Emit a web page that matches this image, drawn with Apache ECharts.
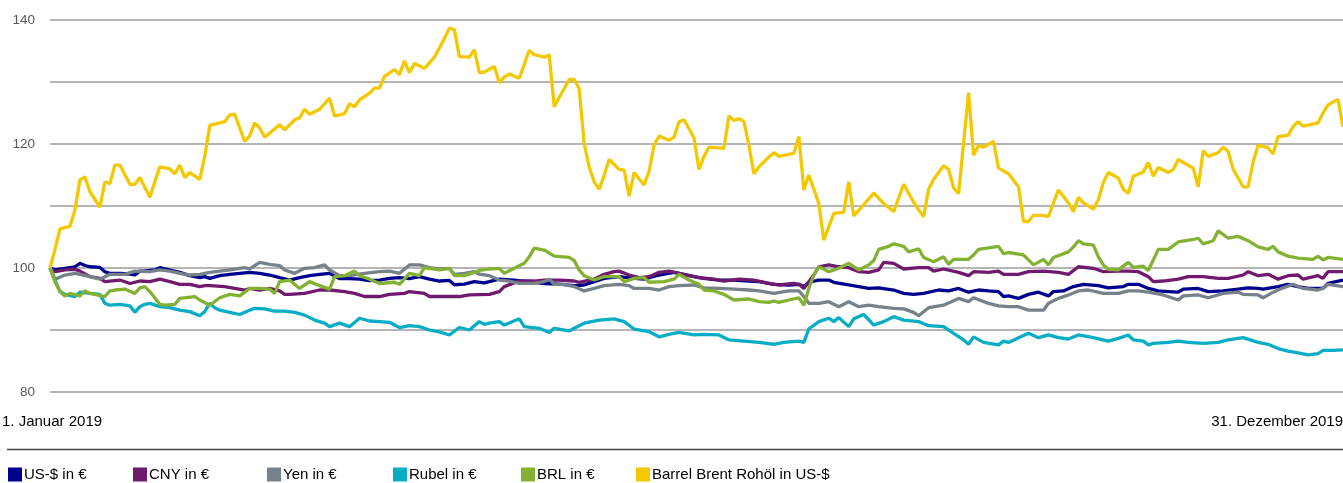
<!DOCTYPE html>
<html>
<head>
<meta charset="utf-8">
<script src="https://cdn.jsdelivr.net/npm/echarts@6/dist/echarts.min.js"></script>
<style>
html, body { margin: 0; padding: 0; background: #fff; }
#chart { width: 1343px; height: 483px; }
</style>
</head>
<body>
<div id="chart"></div>
<script>
// x = Handelstag 0..259 im Jahr 2019, y = Index (1.1.2019 = 100)
var seriesNames = ['US-$ in €', 'CNY in €', 'Yen in €', 'Rubel in €', 'BRL in €', 'Barrel Brent Rohöl in US-$'];
var seriesColors = ['#00008f', '#701a6e', '#76818a', '#07adc4', '#83b233', '#f4c800'];
var legendLeft = [8, 133, 267, 393, 521, 636];
var firstLabel = '1. Januar 2019';
var lastLabel = '31. Dezember 2019';

var usd = [[0,100],[1,99.7],[3,99.95],[5,100.2],[6,100.75],[7,100.4],[8,100.2],[10,100.1],[11,99.4],[12,99.14],[14,99.14],[16,99.03],[17,98.87],[18,99.5],[19,99.55],[21,99.68],[22,100.05],[23,99.85],[24,99.68],[26,99.3],[28,98.76],[30,98.44],[31,98.6],[32,98.33],[34,98.76],[36,98.98],[38,99.14],[40,99.3],[42,99.14],[44,98.87],[46,98.44],[48,98.06],[50,98.44],[52,98.76],[54,98.98],[56,99.14],[58,98.3],[60,98.3],[62,98.2],[64,97.95],[66,98.06],[68,98.33],[70,98.44],[72,98.3],[74,98.6],[76,98.2],[78,97.9],[80,98.0],[81,97.3],[83,97.4],[85,97.8],[87,97.6],[88,97.8],[90,98.2],[93,98.06],[96,97.8],[99,97.5],[102,97.4],[105,97.15],[107,97.26],[109,97.8],[111,98.33],[114,98.6],[117,98.33],[119,98.2],[122,98.87],[125,99.3],[126,99.14],[129,98.6],[131,98.33],[134,98.06],[137,98.06],[140,97.9],[142,97.8],[145,97.37],[148,97.26],[150,97.37],[151,97.0],[152,97.7],[154,98.06],[156,98.06],[157,97.7],[160,97.26],[162,97.0],[164,96.7],[166,96.8],[169,96.45],[171,95.9],[173,95.75],[175,95.9],[178,96.45],[180,96.3],[182,96.7],[184,96.1],[186,96.45],[188,96.3],[190,96.2],[191,95.4],[192,95.5],[194,95.1],[196,95.75],[198,96.1],[200,95.5],[201,96.2],[203,96.3],[205,97.0],[207,97.37],[210,97.15],[212,96.8],[215,97.0],[216,97.37],[218,97.37],[220,96.7],[222,96.3],[224,96.2],[226,96.1],[227,96.6],[230,96.7],[232,96.2],[235,96.3],[238,96.6],[240,96.8],[242,96.7],[243,96.6],[246,97.0],[248,97.37],[250,97.0],[252,96.7],[255,96.7],[256,97.53],[259,98.06]];

var cny = [[0,100],[1,99.4],[3,99.7],[5,99.8],[6,99.5],[8,98.6],[10,98.33],[11,97.8],[12,97.9],[14,98.06],[16,97.5],[18,97.9],[20,97.8],[22,98.2],[24,97.8],[26,97.37],[28,97.37],[30,97.0],[31,97.15],[32,97.15],[35,97.0],[37,96.7],[39,96.45],[40,96.7],[42,96.45],[44,96.7],[46,96.3],[47,95.75],[48,95.75],[51,95.9],[54,96.45],[56,96.45],[59,96.2],[61,95.9],[63,95.4],[66,95.4],[68,95.75],[71,95.9],[72,96.2],[75,95.9],[76,95.4],[79,95.4],[82,95.4],[84,95.65],[86,95.7],[88,95.75],[90,96.2],[91,97.0],[94,97.9],[97,97.9],[99,98.06],[102,98.06],[105,97.9],[106,97.7],[109,98.2],[111,98.98],[113,99.4],[114,99.5],[116,98.87],[118,98.44],[120,98.6],[122,99.3],[124,99.5],[126,99.14],[128,98.76],[130,98.44],[133,98.2],[135,97.9],[138,98.2],[141,98.06],[144,97.53],[146,97.26],[149,97.53],[150,97.37],[151,96.7],[153,98.87],[154,100.2],[156,100.5],[158,100.2],[160,100.05],[162,99.4],[164,99.3],[166,99.7],[167,100.9],[169,100.75],[171,99.84],[174,100.05],[176,100.05],[177,99.5],[179,99.84],[182,99.3],[184,98.76],[185,99.4],[188,99.3],[190,99.5],[191,98.98],[194,98.98],[196,99.4],[199,99.5],[202,99.3],[204,98.98],[206,100.2],[209,99.95],[211,99.4],[214,99.5],[216,99.5],[218,99.4],[220,98.6],[221,97.8],[223,97.9],[226,98.2],[228,98.6],[231,98.6],[234,98.33],[236,98.33],[239,98.87],[240,99.4],[242,98.76],[244,98.98],[246,98.2],[248,98.76],[250,98.87],[251,98.2],[254,98.76],[255,98.33],[256,99.4],[259,99.4]];

var yen = [[0,100],[1,98.2],[3,98.87],[5,99.14],[6,98.98],[8,98.6],[10,98.2],[12,98.98],[15,98.98],[17,99.5],[20,99.4],[22,99.7],[24,99.5],[26,99.14],[28,98.87],[30,98.98],[32,99.3],[34,99.5],[36,99.68],[39,100.05],[40,99.84],[42,100.9],[44,100.6],[46,100.4],[47,99.68],[49,99.14],[51,99.95],[53,100.05],[55,100.5],[56,99.68],[58,98.76],[60,98.76],[63,99.14],[66,99.4],[68,99.5],[70,99.14],[72,100.5],[74,100.5],[76,100.05],[78,99.84],[80,99.95],[81,98.98],[83,99.14],[85,99.4],[86,99.0],[88,98.76],[90,98.06],[92,97.9],[94,97.53],[97,97.53],[99,97.8],[100,98.2],[101,97.37],[103,97.37],[105,97.0],[107,96.3],[109,96.7],[111,97.15],[114,97.37],[116,97.15],[117,96.7],[120,96.7],[122,96.45],[124,97.0],[126,97.15],[129,97.26],[131,96.8],[134,96.7],[137,96.6],[140,96.45],[142,96.3],[145,95.9],[148,96.3],[150,96.3],[151,95.4],[152,94.3],[154,94.3],[156,94.57],[158,93.76],[160,94.57],[162,93.76],[164,94.0],[166,93.76],[169,93.5],[171,93.4],[173,92.85],[174,92.3],[176,93.6],[179,94.0],[182,95.1],[184,94.57],[185,95.2],[188,94.3],[190,93.9],[192,93.76],[194,93.76],[196,93.2],[199,93.2],[200,94.3],[202,95.1],[204,95.65],[206,96.3],[208,96.45],[211,95.9],[214,95.9],[216,96.3],[218,96.3],[220,96.1],[223,95.65],[226,94.84],[227,95.5],[230,95.65],[232,95.2],[235,95.9],[238,96.1],[239,95.75],[242,95.65],[243,95.2],[245,96.1],[247,96.8],[249,97.37],[251,96.7],[254,96.45],[255,96.7],[256,97.37],[259,97.0]];

var rub = [[0,100],[1,98.06],[2,96.2],[3,95.75],[5,95.4],[6,96.1],[8,95.9],[10,95.75],[11,94.3],[12,94.0],[14,94.14],[16,93.9],[17,92.85],[18,93.76],[19,94.14],[20,94.3],[22,93.76],[24,93.6],[26,93.2],[28,92.96],[30,92.3],[31,92.96],[32,94.3],[33,93.6],[34,93.2],[36,92.85],[38,92.5],[39,92.85],[41,93.5],[43,93.4],[45,93.06],[47,93.06],[49,92.85],[51,92.4],[53,91.6],[55,91.1],[56,90.54],[58,91.1],[60,90.54],[62,91.9],[64,91.45],[66,91.35],[68,91.24],[70,90.4],[72,90.7],[74,90.54],[76,90.0],[78,89.7],[80,89.2],[82,90.4],[84,90.0],[86,91.35],[87,90.9],[88,91.1],[90,91.35],[91,90.8],[94,91.8],[95,90.54],[98,90.27],[100,89.6],[101,90.27],[104,89.84],[105,90.27],[107,91.1],[110,91.6],[113,91.8],[115,91.35],[117,90.16],[120,89.73],[122,88.9],[124,89.3],[126,89.6],[129,89.2],[131,89.3],[134,89.2],[136,88.4],[139,88.2],[142,88.0],[145,87.7],[147,88.0],[150,88.2],[151,88.0],[152,90.16],[154,91.35],[156,91.9],[157,91.35],[158,92.0],[160,90.54],[161,91.8],[163,92.5],[165,90.8],[167,91.35],[169,92.15],[171,91.6],[174,91.35],[176,90.7],[179,90.54],[181,89.46],[183,88.4],[184,87.7],[185,88.9],[187,88.0],[190,87.6],[191,88.2],[192,88.0],[194,88.76],[196,89.46],[198,88.76],[200,89.2],[202,88.76],[204,88.55],[206,89.2],[209,88.76],[212,88.2],[214,88.65],[216,89.2],[217,88.4],[219,88.2],[220,87.6],[221,87.85],[224,88.0],[226,88.2],[228,88.0],[231,87.85],[234,88.0],[236,88.4],[239,88.76],[242,88.0],[244,87.7],[246,87.0],[248,86.6],[250,86.3],[252,86.0],[254,86.2],[255,86.7],[257,86.7],[259,86.8]];

var brl = [[0,100],[1,97.8],[2,96.2],[3,95.5],[4,95.9],[6,95.5],[7,96.3],[8,95.9],[11,95.4],[12,96.3],[13,96.45],[15,96.6],[17,95.9],[18,96.8],[19,97.0],[20,96.2],[22,94.14],[23,94.0],[25,94.14],[26,95.1],[29,95.4],[30,94.84],[32,94.0],[34,95.2],[36,95.75],[38,95.5],[40,96.7],[42,96.7],[44,96.6],[45,95.9],[46,97.8],[48,98.06],[50,96.7],[52,97.8],[54,97.15],[56,96.6],[57,98.6],[59,98.76],[61,99.5],[62,98.76],[64,98.2],[66,97.5],[69,97.7],[70,97.37],[72,99.14],[74,98.76],[75,100.05],[78,99.68],[80,99.95],[81,98.76],[83,98.76],[85,99.3],[86,99.6],[88,99.84],[90,99.95],[91,99.14],[93,99.95],[95,100.75],[96,101.8],[97,103.2],[99,102.9],[101,101.9],[104,101.7],[105,101.2],[106,99.7],[107,98.76],[109,98.06],[111,98.6],[114,98.6],[115,97.8],[117,98.33],[119,98.44],[120,97.7],[123,97.8],[125,98.2],[126,98.98],[128,98.06],[130,97.37],[131,96.45],[133,96.3],[135,95.75],[137,94.84],[140,95.0],[142,94.57],[144,94.46],[145,94.68],[146,94.46],[148,94.84],[150,95.2],[151,94.0],[152,96.7],[153,98.87],[154,100.2],[156,99.4],[158,99.95],[160,100.75],[162,99.68],[164,100.5],[165,101.2],[166,103.0],[168,103.5],[169,103.9],[171,103.5],[172,102.6],[174,103.1],[175,101.7],[177,101.0],[179,101.8],[180,100.6],[181,101.4],[184,101.4],[185,102.1],[186,103.0],[190,103.5],[191,102.3],[192,102.5],[195,102.1],[197,100.5],[199,101.4],[200,100.5],[201,101.7],[204,102.6],[205,103.4],[206,104.4],[207,103.9],[209,103.7],[210,101.8],[211,100.5],[212,99.8],[214,99.7],[216,100.9],[217,100.1],[219,100.3],[220,99.6],[222,103.0],[224,103.0],[226,104.2],[229,104.6],[230,104.8],[231,103.9],[233,104.4],[234,106.0],[236,104.8],[238,105.1],[240,104.4],[242,103.4],[244,103.0],[245,103.5],[246,102.6],[248,101.9],[250,101.6],[253,101.4],[254,101.9],[255,101.3],[256,101.7],[259,101.4]];

var brent = [[0,100],[1,103],[2,106.3],[4,106.7],[5,109.4],[6,114.2],[7,114.7],[8,112.3],[10,109.8],[11,113.9],[12,113.6],[13,116.6],[14,116.6],[16,113.5],[17,113.5],[18,114.6],[20,111.4],[21,113.9],[22,116.3],[24,116.0],[25,115.2],[26,116.6],[27,114.6],[28,115.4],[30,114.3],[31,118.0],[32,123.0],[35,123.6],[36,124.7],[37,124.8],[39,120.4],[40,121.3],[41,123.4],[42,122.6],[43,121.1],[46,123.1],[47,122.3],[49,123.9],[50,124.2],[51,125.6],[52,124.8],[54,125.6],[56,127.4],[57,124.5],[59,124.9],[60,126.5],[61,126.0],[62,127.1],[64,128.2],[65,129.0],[66,129.0],[67,130.9],[69,132.0],[70,131.2],[71,133.4],[72,131.5],[73,133.0],[75,132.2],[76,133.1],[77,134.0],[79,137.0],[80,138.7],[81,138.4],[82,134.1],[84,134.0],[85,135.2],[86,131.5],[87,131.6],[89,132.5],[90,129.9],[91,130.8],[92,131.3],[94,130.6],[96,135.1],[97,134.4],[99,134.0],[100,134.4],[101,126.0],[102,127.5],[104,130.4],[105,130.4],[106,128.9],[107,120.1],[108,116.3],[109,113.9],[110,112.7],[111,114.9],[112,117.5],[114,115.9],[115,115.8],[116,111.6],[117,115.4],[119,113.4],[120,115.6],[121,119.8],[122,121.3],[124,120.6],[125,121.1],[126,123.6],[127,123.9],[129,121.0],[130,115.9],[131,118.0],[132,119.5],[135,119.3],[136,124.5],[137,123.8],[138,124.1],[139,123.6],[140,119.8],[141,115.2],[142,116.3],[144,117.9],[145,118.6],[146,118.0],[149,118.5],[150,121.2],[151,112.6],[152,115.0],[154,110.4],[155,104.5],[157,108.8],[159,109.0],[160,113.9],[161,108.4],[163,110.2],[165,112.1],[167,110.4],[169,109.1],[171,113.5],[173,110.6],[174,109.4],[175,108.3],[176,112.7],[177,114.3],[179,116.5],[180,115.9],[181,112.9],[182,112.0],[184,128.3],[185,118.2],[186,119.8],[187,119.5],[189,120.4],[190,116.1],[192,115.2],[194,113.1],[195,107.5],[196,107.5],[197,108.5],[199,108.5],[200,108.3],[202,112.6],[204,110.5],[205,109.1],[206,111.4],[207,110.5],[209,109.5],[210,111.0],[211,113.8],[212,115.4],[214,114.5],[215,112.7],[216,112.0],[217,114.8],[219,115.5],[220,117.0],[221,114.8],[222,116.2],[224,115.4],[225,115.9],[226,117.5],[229,116.1],[230,113.1],[231,118.9],[232,118.0],[234,118.6],[235,119.5],[236,118.8],[237,115.9],[239,113.1],[240,113.1],[241,117.1],[242,119.8],[244,119.4],[245,118.4],[246,121.2],[248,121.4],[249,122.8],[250,123.6],[251,122.9],[254,123.4],[255,125.0],[256,126.3],[258,127.2],[259,122.8]];

var allData = [usd, cny, yen, rub, brl, brent];
var fontFamily = '"Liberation Sans", Arial, sans-serif';

var chart = echarts.init(document.getElementById('chart'), null, { renderer: 'canvas' });

var series = [];
var legends = [];
for (var i = 0; i < allData.length; i++) {
    series.push({
        name: seriesNames[i],
        type: 'line',
        data: allData[i],
        showSymbol: false,
        symbol: 'none',
        lineStyle: { width: 3.3, color: seriesColors[i] },
        itemStyle: { color: seriesColors[i] }
    });
    legends.push({
        data: [seriesNames[i]],
        left: legendLeft[i],
        top: 467,
        padding: 0,
        icon: 'rect',
        itemWidth: 14,
        itemHeight: 14,
        selectedMode: false,
        textStyle: { fontFamily: fontFamily, fontSize: 15, color: '#000', padding: [0, 0, 0, -3] }
    });
}

var option = {
    animation: false,
    backgroundColor: '#fff',
    grid: { left: 50, right: 0, top: 20, bottom: 91, containLabel: false },
    xAxis: {
        type: 'value',
        min: 0,
        max: 259,
        axisLine: { show: false },
        axisTick: { show: false },
        axisLabel: { show: false },
        splitLine: { show: false }
    },
    yAxis: {
        type: 'value',
        min: 80,
        max: 140,
        interval: 10,
        axisLine: { show: false },
        axisTick: { show: false },
        axisLabel: {
            margin: 15,
            fontFamily: fontFamily,
            fontSize: 13.5,
            color: '#595959',
            formatter: function (v) { return v % 20 === 0 ? v : ''; }
        },
        splitLine: { lineStyle: { color: '#9d9d9d', width: 1.5 } }
    },
    legend: legends,
    graphic: [
        {
            type: 'text',
            left: 2,
            top: 414,
            style: { text: firstLabel, font: '15px ' + fontFamily, fill: '#000' }
        },
        {
            type: 'text',
            right: 0,
            top: 414,
            style: { text: lastLabel, font: '15px ' + fontFamily, fill: '#000' }
        },
        {
            type: 'line',
            shape: { x1: 7, y1: 449.5, x2: 1343, y2: 449.5 },
            style: { stroke: '#404040', lineWidth: 1.5 }
        }
    ],
    series: series
};
chart.setOption(option);
</script>
</body>
</html>
